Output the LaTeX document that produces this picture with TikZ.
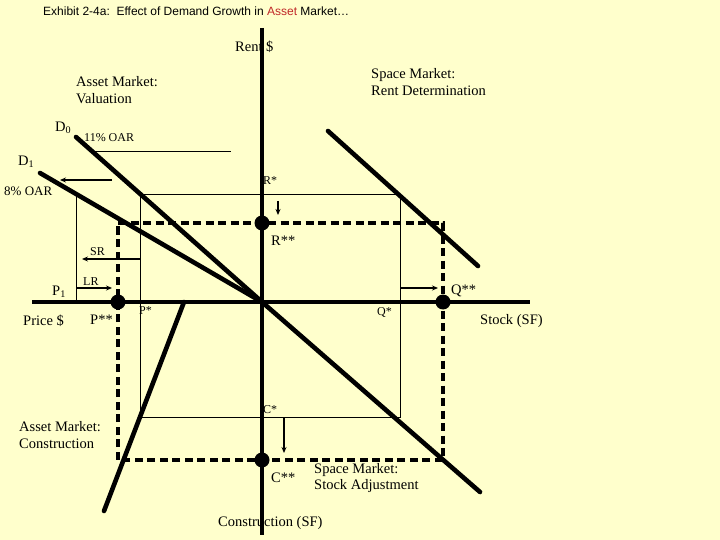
\documentclass[tikz,border=0pt]{standalone}
\usepackage{fontspec}
\setmainfont{Liberation Serif}
\newfontfamily\titlefont{Liberation Sans}
\usetikzlibrary{arrows.meta}
\definecolor{bgyellow}{RGB}{255,255,204}
\definecolor{titlered}{RGB}{192,40,40}
\begin{document}
\begin{tikzpicture}[x=1pt,y=-1pt,
  axis/.style={line width=3.8pt},
  curve/.style={line width=4.6pt,line cap=round},
  thinline/.style={line width=0.9pt},
  dashline/.style={line width=3.4pt,dash pattern=on 8pt off 4.5pt},
  arr/.style={line width=1.4pt,-{Stealth[length=6pt,width=5pt]}},
  dot/.style={circle,fill=black,inner sep=0pt,minimum size=15pt},
  lab/.style={inner sep=0pt,anchor=west,font=\fontsize{14.5}{16.5}\selectfont,align=left},
  slab/.style={inner sep=0pt,anchor=west,font=\fontsize{12}{14}\selectfont}]
\fill[bgyellow] (0,0) rectangle (720,540);
\useasboundingbox (0,0) rectangle (720,540);

% coordinates
\coordinate (O) at (262,302);
\coordinate (axT) at (262,28);
\coordinate (axB) at (262,535);
\coordinate (axL) at (32,302);
\coordinate (axR) at (530,302);
\coordinate (d0a) at (76,137);
\coordinate (d1a) at (40,173);
\coordinate (s1) at (328,131);
\coordinate (s2) at (478,266);
\coordinate (sa2) at (480,492);
\coordinate (c1) at (104,511);
\coordinate (c2) at (184,302);
% thin rectangle
\coordinate (t1) at (140,194);
\coordinate (t2) at (400,194);
\coordinate (t3) at (400,417);
\coordinate (t4) at (140,417);
\coordinate (p1t) at (76,196);
\coordinate (p1b) at (76,302);
\coordinate (oar1) at (95,151);
\coordinate (oar2) at (231,151);
% dashed rectangle
\coordinate (u1) at (118,223);
\coordinate (u2) at (443,223);
\coordinate (u3) at (443,460);
\coordinate (u4) at (118,460);
% arrows
\coordinate (a1s) at (112,180); \coordinate (a1e) at (60,180);
\coordinate (srs) at (140,259); \coordinate (sre) at (82,259);
\coordinate (lrs) at (76,288);  \coordinate (lre) at (112,288);
\coordinate (rs) at (278,201);  \coordinate (re) at (278,215);
\coordinate (qs) at (400,288);  \coordinate (qe) at (438,288);
\coordinate (cs) at (284,418);  \coordinate (ce) at (284,453);

% thin lines
\draw[thinline] (t1) -- (t2) -- (t3) -- (t4) -- cycle;
\draw[thinline] (p1t) -- (p1b);
\draw[thinline] (oar1) -- (oar2);

% dashed
\draw[dashline] (u1) -- (u2) -- (u3) -- (u4) -- cycle;

% axes
\draw[axis] (axT) -- (axB);
\draw[axis] (axL) -- (axR);

% curves
\draw[curve] (d0a) -- (O);
\draw[curve] (d1a) -- (O);
\draw[curve] (s1) -- (s2);
\draw[curve] (O) -- (sa2);
\draw[curve] (c1) -- (c2);

% arrows
\draw[arr] (a1s) -- (a1e);
\draw[arr] (srs) -- (sre);
\draw[arr] (lrs) -- (lre);
\draw[arr] (rs) -- (re);
\draw[arr] (qs) -- (qe);
\draw[arr] (cs) -- (ce);

% dots
\node[dot] (Rss) at (262,223) {};
\node[dot] (Pss) at (118,302) {};
\node[dot] (Qss) at (443,302) {};
\node[dot] (Css) at (262,460) {};

% texts
\node[inner sep=0pt,anchor=west,font=\titlefont\fontsize{12}{14}\selectfont] (title) at (43,11)
  {Exhibit 2-4a:\ \ Effect of Demand Growth in \textcolor{titlered}{Asset} Market\dots};
\node[lab] (rent) at (235,47) {Rent \$};
\node[lab] (amv) at (76,90) {Asset Market:\\Valuation};
\node[lab] (smr) at (371,82) {Space Market:\\Rent Determination};
\node[lab] (D0) at (55,128) {D\textsubscript{0}};
\node[slab] (oar11) at (84,138) {11\% OAR};
\node[lab] (D1) at (18,162) {D\textsubscript{1}};
\node[slab,font=\fontsize{13}{15}\selectfont] (oar8) at (4,191) {8\% OAR};
\node[slab] (Rs) at (263,181) {R*};
\node[lab] (Rsl) at (271,241) {R**};
\node[slab] (SR) at (90,252) {SR};
\node[slab] (LR) at (83,282) {LR};
\node[lab] (P1) at (52,292) {P\textsubscript{1}};
\node[lab] (price) at (23,321) {Price \$};
\node[lab] (Psl) at (90,320) {P**};
\node[slab] (Ps) at (139,311) {P*};
\node[slab] (Qs) at (377,312) {Q*};
\node[lab] (Qsl) at (451,291) {Q**};
\node[lab] (stock) at (480,321) {Stock (SF)};
\node[slab] (Cs) at (263,410) {C*};
\node[lab] (Csl) at (271,478) {C**};
\node[lab] (amc) at (19,435) {Asset Market:\\Construction};
\node[lab] (sms) at (314,478) {Space Market:\\Stock Adjustment};
\node[lab] (consf) at (218,523) {Construction (SF)};
\end{tikzpicture}
\end{document}
